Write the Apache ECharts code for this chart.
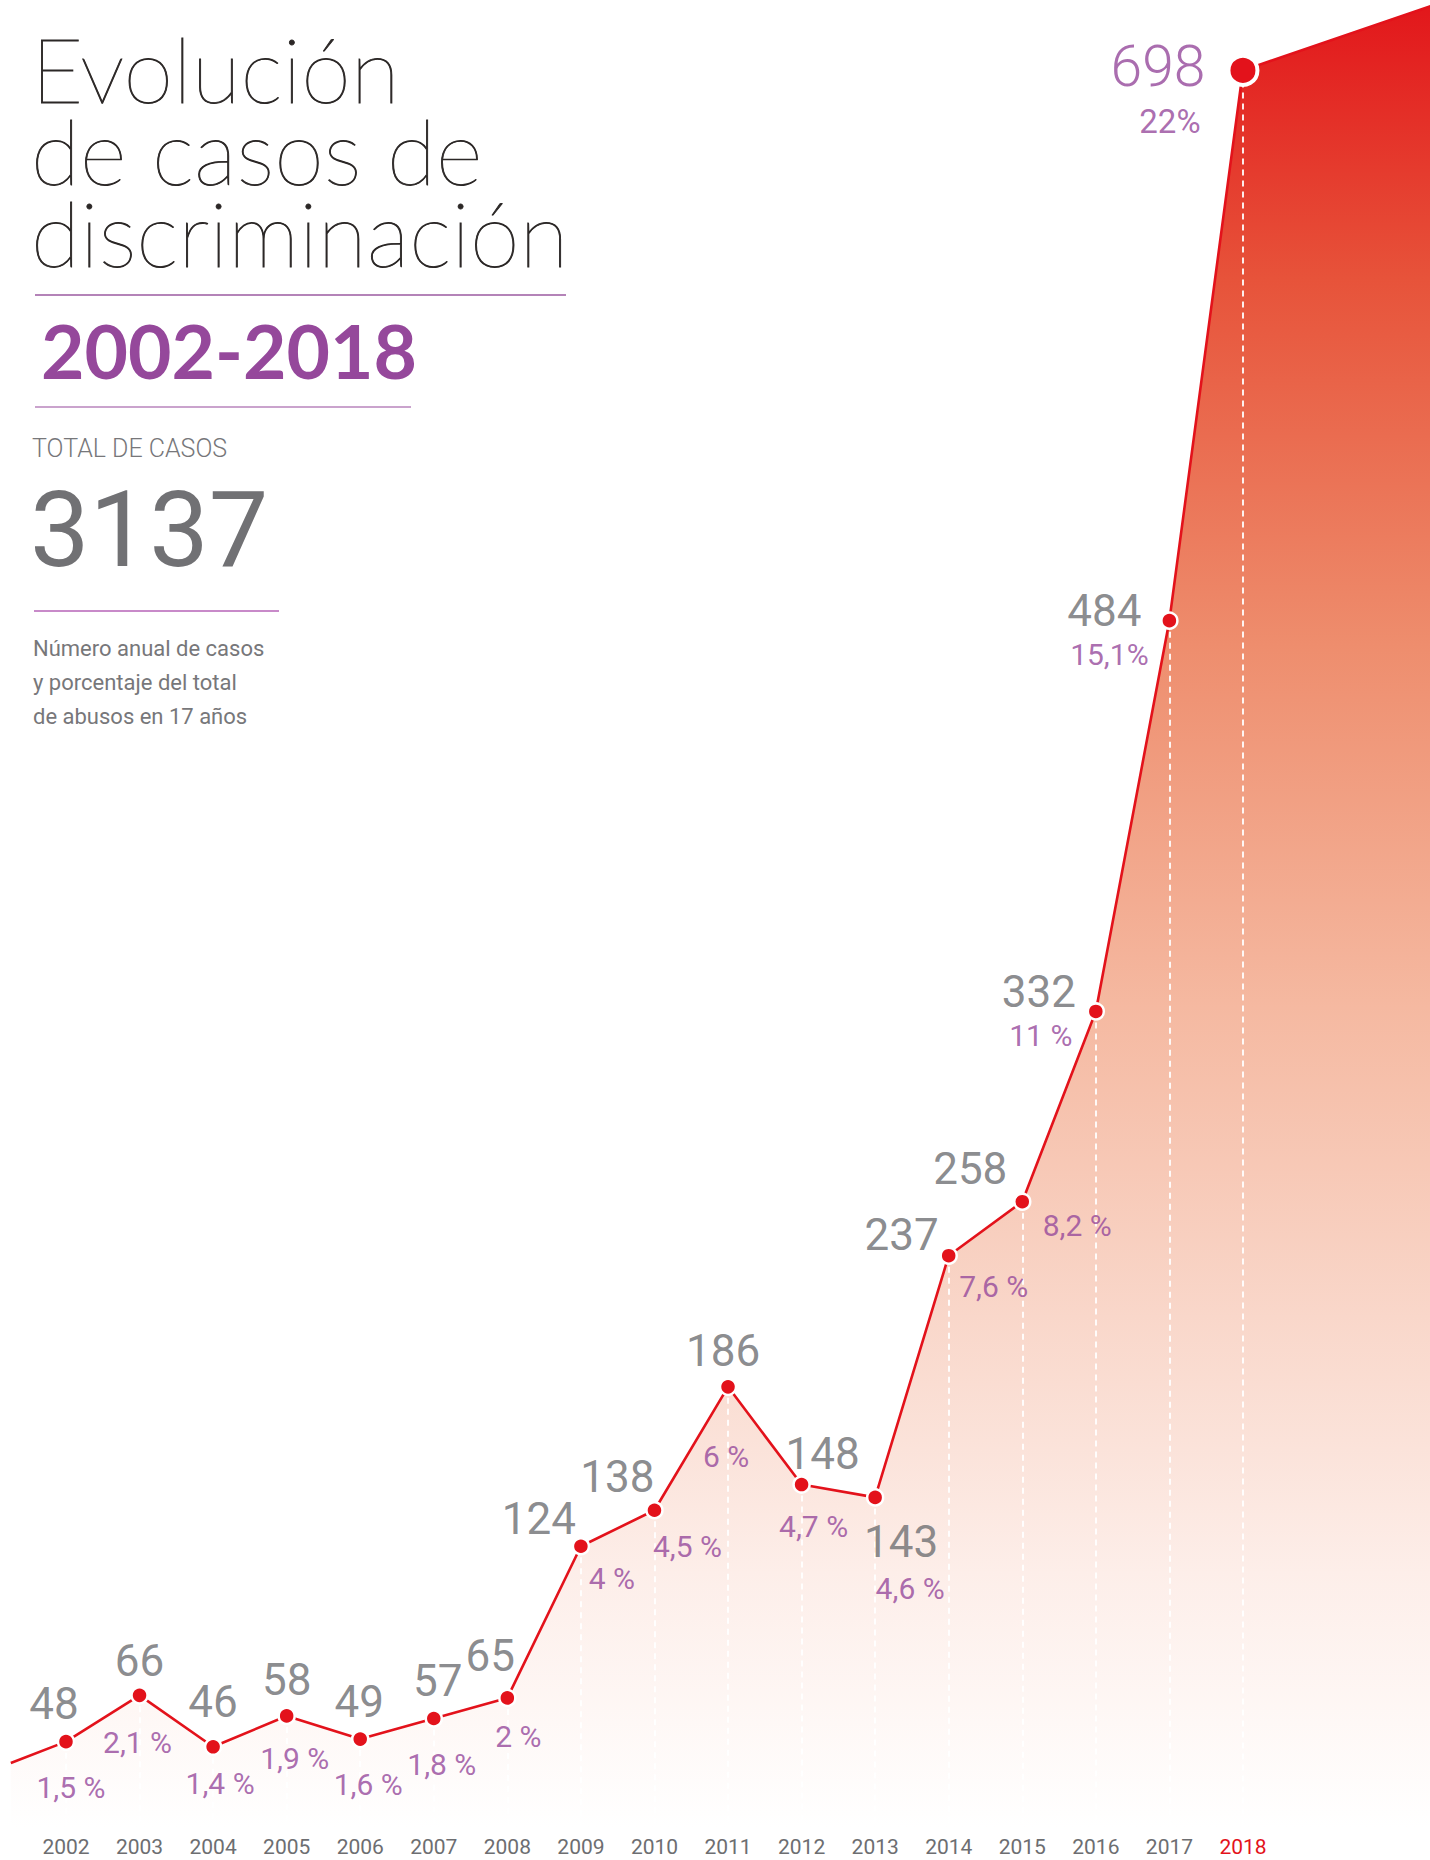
<!DOCTYPE html>
<html>
<head>
<meta charset="utf-8">
<script src="https://cdn.jsdelivr.net/npm/echarts/dist/echarts.min.js"></script>
<style>
html,body{margin:0;padding:0;background:#ffffff;}
#chart{width:1430px;height:1860px;}
</style>
</head>
<body>
<div id="chart"></div>
<script>
// ---------------- data ----------------
const years = [2002, 2003, 2004, 2005, 2006, 2007, 2008, 2009, 2010, 2011, 2012, 2013, 2014, 2015, 2016, 2017, 2018];
const cases = [48, 66, 46, 58, 49, 57, 65, 124, 138, 186, 148, 143, 237, 258, 332, 484, 698];
const shares = ['1,5 %', '2,1 %', '1,4 %', '1,9 %', '1,6 %', '1,8 %', '2 %', '4 %', '4,5 %', '6 %', '4,7 %', '4,6 %', '7,6 %', '8,2 %', '11 %', '15,1%', '22%'];
const yearLabels = years.map(String);
const leadIn = [2001.25, 39.7];   // line enters from the left edge
const leadOut = [2020.55, 723];   // area leaves at the top-right corner
const totalCases = '3137';
const titleLines = ['Evolución', 'de casos de', 'discriminación'];
const subtitleLines = ['Número anual de casos', 'y porcentaje del total', 'de abusos en 17 años'];

// ---------------- layout / style ----------------
const X_MIN = 2001.103, X_MAX = 2020.543, Y_MIN = 14.8, Y_MAX = 725.4;
const GRAY = '#6d6e71', PURPLE = '#95489b', RED = '#e3121b', INK = '#2b2726';
const NARROW = "'Liberation Sans Narrow', 'Arial Narrow', Roboto, sans-serif";
const valueOffsets = [[-12,-38],[0,-34],[0,-45],[0,-36],[-1,-37],[4,-38],[-17,-42],[-42,-27],[-37,-33],[-5,-36],[21,-31],[26,45],[-47,-21],[-52,-33],[-57,-19],[-65,-10],[-85,-4]];
const shareOffsets = [[5,46],[-2,47],[7,37],[8,43],[8,45],[8,46],[11,39],[31,32],[33,36],[-2,70],[12,42],[35,91],[45,31],[55,24],[-55,24],[-60,34],[-73,51]];
const last = years.length - 1;

const pts = years.map((y, i) => [y, cases[i]]);
const lineData = [{value: leadIn, symbol: 'none'}]
  .concat(pts.map((p, i) => i === last
    ? {value: p, symbolSize: 29, itemStyle: {borderWidth: 4}}
    : {value: p}))
  .concat([{value: leadOut, symbol: 'none'}]);

const valueLabelData = pts.map((p, i) => ({
  value: p,
  label: i === last
    ? {offset: valueOffsets[i], color: PURPLE, fontSize: 57, fontWeight: 300, lineHeight: 46}
    : {offset: valueOffsets[i]}
}));
const shareLabelData = pts.map((p, i) => ({
  value: p,
  label: i === last
    ? {offset: shareOffsets[i], fontSize: 33, lineHeight: 30}
    : {offset: shareOffsets[i]}
}));

const dropLines = pts.map(p => [{coord: p}, {coord: [p[0], Y_MIN]}]);

const chart = echarts.init(document.getElementById('chart'), null, {renderer: 'svg', width: 1430, height: 1860});

const T = (x, y, text, font, fill, lh, extraStyle) => ({
  type: 'text', x: x, y: y, z: 10,
  style: Object.assign({text: text, font: font, fill: fill, lineHeight: lh, verticalAlign: 'middle', textVerticalAlign: 'middle'}, extraStyle || {})
});
const L = (x1, y, x2, stroke, w) => ({
  type: 'line', z: 10, shape: {x1: x1, y1: y, x2: x2, y2: y}, style: {stroke: stroke, lineWidth: w}
});

chart.setOption({
  animation: false,
  backgroundColor: '#ffffff',
  grid: [
    {left: 0, right: 0, top: 0, bottom: 33},
    {left: 66, right: 187, top: 0, bottom: 33}
  ],
  xAxis: [
    {type: 'value', gridIndex: 0, min: X_MIN, max: X_MAX, show: false},
    {type: 'category', gridIndex: 1, data: yearLabels, boundaryGap: false,
     axisLine: {show: false}, axisTick: {show: false}, splitLine: {show: false},
     axisLabel: {interval: 0, margin: 9, fontSize: 21, fontFamily: NARROW, color: GRAY,
       formatter: v => v === '2018' ? '{hl|' + v + '}' : v,
       rich: {hl: {color: RED, fontSize: 21, fontFamily: NARROW}}}}
  ],
  yAxis: [
    {type: 'value', gridIndex: 0, min: Y_MIN, max: Y_MAX, show: false},
    {type: 'value', gridIndex: 1, min: 0, max: 1, show: false}
  ],
  series: [
    {
      type: 'line', z: 1, data: lineData, symbol: 'none', silent: true,
      lineStyle: {width: 0},
      areaStyle: {
        origin: 'start', opacity: 1,
        color: new echarts.graphic.LinearGradient(0, 0, 0, 1, [
          {offset: 0, color: '#e2171b'},
          {offset: 0.15, color: '#e7533a'},
          {offset: 0.35, color: '#ee8d6d'},
          {offset: 0.55, color: '#f5b9a1'},
          {offset: 0.72, color: '#f9d7ca'},
          {offset: 0.86, color: '#fdeee9'},
          {offset: 1, color: '#ffffff'}
        ])
      },
      markLine: {
        z: 2, silent: true, symbol: 'none', animation: false,
        label: {show: false},
        lineStyle: {color: '#ffffff', width: 1.8, type: [6, 5], opacity: 1},
        data: dropLines
      }
    },
    {
      type: 'line', z: 3, data: lineData, symbol: 'circle', symbolSize: 16,
      clip: false,
      lineStyle: {color: RED, width: 2.6},
      itemStyle: {color: RED, borderColor: '#ffffff', borderWidth: 2.5},
      label: {show: false}
    },
    {
      type: 'scatter', z: 4, data: valueLabelData, symbolSize: 0.1,
      itemStyle: {color: 'transparent'},
      label: {show: true, position: 'inside', formatter: p => String(p.value[1]),
        fontFamily: 'Roboto, sans-serif', fontSize: 44, lineHeight: 40, color: GRAY, align: 'center', verticalAlign: 'middle'}
    },
    {
      type: 'scatter', z: 4, data: shareLabelData, symbolSize: 0.1,
      itemStyle: {color: 'transparent'},
      label: {show: true, position: 'inside', formatter: p => shares[p.dataIndex],
        fontFamily: NARROW, fontSize: 30, lineHeight: 28, color: PURPLE, align: 'center', verticalAlign: 'middle'}
    }
  ],
  graphic: [
    T(31, 150, titleLines.join('\n'), "200 90px Lato", INK, 82, {stroke: INK, lineWidth: 0.9}),
    L(35, 295, 566, '#9b5aa0', 1.5),
    T(41, 350, '2002-2018', "bold 75px Lato", PURPLE, 70),
    L(35, 407, 411, '#caa3cd', 2),
    T(32, 448, 'TOTAL DE CASOS', "300 25px Roboto", '#77777a', 25),
    T(30, 530, totalCases, "400 106px Roboto", '#717174', 104),
    L(34, 611, 279, '#c88ac9', 2),
    T(33, 682, subtitleLines.join('\n'), "400 22px Roboto", '#77777a', 34)
  ]
});
</script>
</body>
</html>
